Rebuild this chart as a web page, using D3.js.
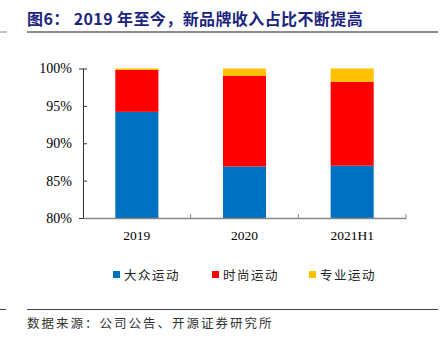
<!DOCTYPE html>
<html>
<head>
<meta charset="utf-8">
<script src="https://cdn.jsdelivr.net/npm/d3@7"></script>
<style>
  body { margin: 0; background: #fff; }
  svg { display: block; }
</style>
</head>
<body>
<svg id="chart"></svg>
<script>
// data
var categories = ['2019', '2020', '2021H1'];
var seriesNames = ['大众运动', '时尚运动', '专业运动'];
var massSport = [94.2, 86.9, 87.0];
var fashionSport = [5.6, 12.1, 11.2];
var proSport = [0.2, 1.0, 1.8];
var yTicks = [80, 85, 90, 95, 100];
var colors = ['#0070C0', '#FF0000', '#FFC000'];

var width = 441, height = 342;
var svg = d3.select('#chart').attr('width', width).attr('height', height);

// title + rules
svg.append('text')
  .attr('x', 27).attr('y', 25)
  .attr('font-family', 'Noto Sans CJK SC, sans-serif')
  .attr('font-size', '16px')
  .attr('font-weight', 700)
  .attr('letter-spacing', '0.4px')
  .attr('fill', '#1c2580')
  .text('图6： 2019 年至今，新品牌收入占比不断提高');
svg.append('line').attr('x1', 27).attr('x2', 438).attr('y1', 32).attr('y2', 32)
  .attr('stroke', '#8c8c8c').attr('stroke-width', 2);
svg.append('line').attr('x1', 0).attr('x2', 7).attr('y1', 32).attr('y2', 32)
  .attr('stroke', '#8c8c8c').attr('stroke-width', 1);
svg.append('line').attr('x1', 27).attr('x2', 438).attr('y1', 309.5).attr('y2', 309.5)
  .attr('stroke', '#444').attr('stroke-width', 1);
svg.append('line').attr('x1', 0).attr('x2', 6).attr('y1', 309.5).attr('y2', 309.5)
  .attr('stroke', '#444').attr('stroke-width', 1);
svg.append('text')
  .attr('x', 27).attr('y', 328)
  .attr('font-family', 'Noto Sans CJK SC, sans-serif')
  .attr('font-size', '12.5px')
  .attr('letter-spacing', '2px')
  .attr('fill', '#333')
  .text('数据来源：公司公告、开源证券研究所');

// chart
var x = d3.scaleBand().domain(categories).range([83, 406]).paddingInner(0.6).paddingOuter(0.3);
var y = d3.scaleLinear().domain([80, 100]).range([218, 68.5]);

var rows = categories.map(function(c, i) {
  return {cat: c, s0: massSport[i], s1: fashionSport[i], s2: proSport[i]};
});
var stack = d3.stack().keys(['s0', 's1', 's2']);
var layers = stack(rows);

var g = svg.append('g');
g.selectAll('.layer')
  .data(layers)
  .enter()
  .append('g')
  .attr('fill', function(d, i) { return colors[i]; })
  .selectAll('rect')
  .data(function(d) { return d; })
  .enter()
  .append('rect')
  .attr('x', function(d) { return x(d.data.cat); })
  .attr('width', x.bandwidth())
  .attr('y', function(d) { return y(Math.min(d[1], 100)); })
  .attr('height', function(d) { return Math.max(0, y(Math.max(d[0], 80)) - y(Math.min(d[1], 100))); });

// y axis
var yAxis = svg.append('g').attr('transform', 'translate(83,0)')
  .call(d3.axisLeft(y).tickValues(yTicks).tickSize(4).tickFormat(function(d) { return d + '%'; }));
yAxis.select('.domain').attr('stroke', '#333');
yAxis.selectAll('.tick line').attr('stroke', '#333').attr('x1', 0).attr('x2', 4);
yAxis.selectAll('text')
  .attr('x', -11)
  .attr('font-family', 'Liberation Serif, serif')
  .attr('font-size', '14px')
  .attr('fill', '#000');

// x axis
var xAxis = svg.append('g').attr('transform', 'translate(0,218)')
  .call(d3.axisBottom(x).tickSize(0).tickPadding(12));
xAxis.select('.domain').attr('stroke', '#888').attr('stroke-width', 1.5);
xAxis.selectAll('text')
  .attr('font-family', 'Liberation Serif, serif')
  .attr('font-size', '13.5px')
  .attr('fill', '#000');
var sep = categories.map(function(c) { return x(c) + x.bandwidth() / 2 + x.step() / 2; });
svg.append('g').selectAll('line')
  .data(sep)
  .enter()
  .append('line')
  .attr('x1', function(d) { return d; }).attr('x2', function(d) { return d; })
  .attr('y1', 218).attr('y2', 214)
  .attr('stroke', '#888');

// legend
var legendX = [113, 212, 309];
var legend = svg.append('g').selectAll('g')
  .data(seriesNames)
  .enter()
  .append('g')
  .attr('transform', function(d, i) { return 'translate(' + legendX[i] + ',276)'; });
legend.append('rect')
  .attr('x', 0).attr('y', -5).attr('width', 7).attr('height', 7)
  .attr('fill', function(d, i) { return colors[i]; });
legend.append('text')
  .attr('x', 11).attr('y', 4)
  .attr('font-family', 'Noto Sans CJK SC, sans-serif')
  .attr('font-size', '12.5px')
  .attr('letter-spacing', '1.5px')
  .attr('fill', '#222')
  .text(function(d) { return d; });
</script>
</body>
</html>
